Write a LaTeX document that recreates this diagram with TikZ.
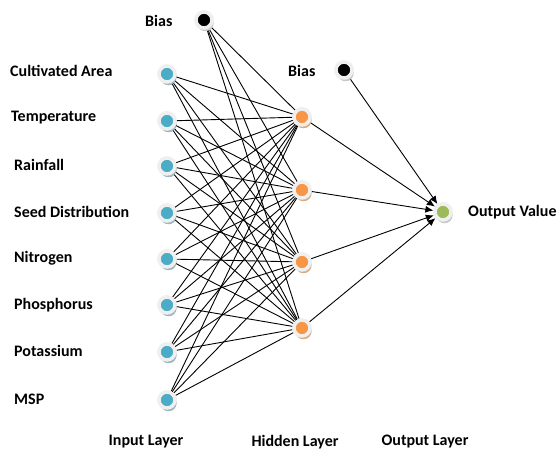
\documentclass[tikz,border=0pt]{standalone}
\usepackage{fontspec}
\setmainfont{Carlito}
\usetikzlibrary{arrows.meta,shadows}
\definecolor{inblue}{HTML}{4BACC6}
\definecolor{inshadow}{HTML}{9DB8C2}
\definecolor{hidorange}{HTML}{F79646}
\definecolor{hidshadow}{HTML}{D9AE84}
\definecolor{outgreen}{HTML}{9BBB59}
\definecolor{ringgray}{HTML}{EFEFEF}
\definecolor{greyshadow}{HTML}{C8C8C8}
\tikzset{
  neuron/.style={circle, minimum size=16pt, inner sep=0pt, draw=ringgray, line width=3.5pt},
  inneuron/.style={neuron, fill=inblue, drop shadow={shadow xshift=1.5pt, shadow yshift=-3.2pt, fill=inshadow, opacity=1}},
  hidneuron/.style={neuron, fill=hidorange, drop shadow={shadow xshift=1.5pt, shadow yshift=-3.2pt, fill=hidshadow, opacity=1}},
  outneuron/.style={neuron, fill=outgreen, drop shadow={shadow xshift=1.5pt, shadow yshift=-3.2pt, fill=greyshadow, opacity=1}},
  biasneuron/.style={neuron, fill=black, drop shadow={shadow xshift=1.5pt, shadow yshift=-3.2pt, fill=greyshadow, opacity=1}},
  lbl/.style={font=\fontsize{16}{18}\selectfont\bfseries, text=black, inner sep=0pt},
  wire/.style={line width=0.9pt, black},
  arr/.style={line width=0.9pt, black, -{Latex[length=8pt,width=7pt]}}
}
\begin{document}
\begin{tikzpicture}[x=1pt,y=-1pt]
\useasboundingbox (0,0) rectangle (558,454);
% input nodes
\foreach \i/\y in {1/74,2/121,3/166,4/213,5/259,6/305,7/352,8/400}{
  \node[inneuron] (in\i) at (167,\y) {};
}
\node[biasneuron] (b1) at (204,20) {};
% hidden nodes
\foreach \j/\y in {1/117,2/190,3/262,4/328}{
  \node[hidneuron] (h\j) at (302,\y) {};
}
\node[biasneuron] (b2) at (344,70) {};
\node[outneuron] (o) at (443,212) {};
% wires input -> hidden
\foreach \i in {1,...,8}{
  \foreach \j in {1,...,4}{
    \draw[wire] (in\i) -- (h\j);
  }
}
\foreach \j in {1,...,4}{
  \draw[wire] (b1) -- (h\j);
}
% hidden -> output
\foreach \j in {1,...,4}{
  \draw[arr] (h\j) -- (o);
}
\draw[arr] (b2) -- (o);
% redraw nodes on top
\foreach \i/\y in {1/74,2/121,3/166,4/213,5/259,6/305,7/352,8/400}{
  \node[inneuron] at (167,\y) {};
}
\node[biasneuron] at (204,20) {};
\foreach \j/\y in {1/117,2/190,3/262,4/328}{
  \node[hidneuron] at (302,\y) {};
}
\node[biasneuron] at (344,70) {};
\node[outneuron] at (443,212) {};
% labels
\node[lbl, anchor=west] (lb1) at (145,21) {Bias};
\node[lbl, anchor=west] (lb2) at (288,71) {Bias};
\node[lbl, anchor=west] (l1) at (10,71) {Cultivated Area};
\node[lbl, anchor=west] (l2) at (11,118) {Temperature};
\node[lbl, anchor=west] (l3) at (14,165) {Rainfall};
\node[lbl, anchor=west] (l4) at (14,212) {Seed Distribution};
\node[lbl, anchor=west] (l5) at (14,258) {Nitrogen};
\node[lbl, anchor=west] (l6) at (14,305) {Phosphorus};
\node[lbl, anchor=west] (l7) at (14,351) {Potassium};
\node[lbl, anchor=west] (l8) at (14,399) {MSP};
\node[lbl, anchor=west] (lo) at (468,212) {Output Value};
\node[lbl] (L1) at (146,442) {Input Layer};
\node[lbl] (L2) at (295,442) {Hidden Layer};
\node[lbl] (L3) at (425,442) {Output Layer};
\end{tikzpicture}
\end{document}
